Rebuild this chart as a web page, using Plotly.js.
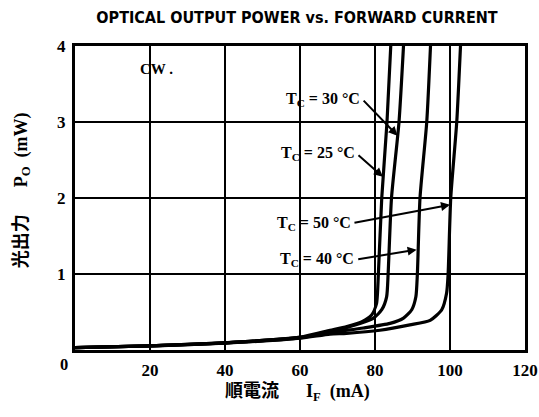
<!DOCTYPE html>
<html>
<head>
<meta charset="utf-8">
<script src="https://cdn.plot.ly/plotly-3.0.1.min.js"></script>
<style>
html,body{margin:0;padding:0;background:#fff;}
#chart{width:539px;height:417px;}
</style>
</head>
<body>
<div id="chart"></div>
<script>
// Forward current (mA) and optical output power (mW) for each case temperature
const current25 = [0, 20, 40, 60, 68, 72.5, 76.4, 79.1, 80.4, 80.9, 81.8, 83.2, 84.2];
const power25   = [0.03, 0.055, 0.095, 0.17, 0.26, 0.31, 0.37, 0.46, 0.61, 1.0, 2.0, 3.0, 4.0];

const current30 = [0, 20, 40, 60, 68, 76, 79.6, 81.8, 83.1, 83.5, 84.4, 86.4, 87.6];
const power30   = [0.03, 0.055, 0.095, 0.165, 0.24, 0.35, 0.42, 0.53, 0.70, 1.0, 2.0, 3.0, 4.0];

const current40 = [0, 20, 40, 60, 68, 76.9, 84, 87.6, 89.8, 90.9, 91.3, 92.0, 93.8, 94.8];
const power40   = [0.03, 0.055, 0.095, 0.16, 0.23, 0.29, 0.35, 0.42, 0.53, 0.70, 1.0, 2.0, 3.0, 4.0];

const current50 = [0, 20, 40, 60, 68, 72.4, 81.3, 89.3, 94.7, 97.8, 99.1, 99.5, 100.2, 101.8, 102.8];
const power50   = [0.03, 0.055, 0.09, 0.155, 0.21, 0.22, 0.26, 0.33, 0.39, 0.53, 0.75, 1.0, 2.0, 3.0, 4.0];

const xTicks = [20, 40, 60, 80, 100, 120];
const yTicks = [1, 2, 3, 4];

// Curve labels: text, label right end (mA, mW), arrow tip (mA, mW)
const labelText = ['T<sub>C</sub> = 30 °C', 'T<sub>C</sub> = 25 °C', 'T<sub>C</sub> = 50 °C', 'T<sub>C</sub> = 40 °C'];
const labelX = [76.6, 75.2, 74.0, 75.0];
const labelY = [3.30, 2.58, 1.67, 1.19];
const tipX = [86.0, 82.1, 100.0, 91.1];
const tipY = [2.82, 2.28, 1.91, 1.32];

const seriesList = [
  {name: '25', x: current25, y: power25},
  {name: '30', x: current30, y: power30},
  {name: '40', x: current40, y: power40},
  {name: '50', x: current50, y: power50}
];

const traces = seriesList.map(s => ({
  type: 'scatter', mode: 'lines', x: s.x, y: s.y, name: s.name,
  line: {color: '#000', width: 3.2, shape: 'spline', smoothing: 0.6},
  hoverinfo: 'skip'
}));

const serif = '"Liberation Serif", "Noto Sans CJK JP", serif';
const sans = '"DejaVu Sans Condensed", "DejaVu Sans", sans-serif';

const annotations = [];
for (let i = 0; i < labelText.length; i++) {
  annotations.push({
    x: tipX[i], y: tipY[i], xref: 'x', yref: 'y',
    ax: labelX[i], ay: labelY[i], axref: 'x', ayref: 'y',
    xanchor: 'right', yanchor: 'middle',
    text: '<b>' + labelText[i] + '</b>', showarrow: true,
    arrowhead: 2, arrowsize: 0.9, arrowwidth: 2, arrowcolor: '#000', standoff: 0, startstandoff: 2,
    font: {family: serif, size: 16, color: '#000'}
  });
}
annotations.push({
  x: 16.8, y: 3.70, xref: 'x', yref: 'y', xanchor: 'left', yanchor: 'middle',
  text: '<b>CW .</b>', showarrow: false, font: {family: serif, size: 15, color: '#000'}
});
annotations.push({
  x: 0, y: 0, xref: 'x', yref: 'y', xanchor: 'right', yanchor: 'top', xshift: -5, yshift: -3,
  text: '<b>0</b>', showarrow: false, font: {family: serif, size: 16.5, color: '#000', weight: 'bold'}
});
// axis titles
annotations.push({
  x: 0.494, y: -0.141, xref: 'paper', yref: 'paper', xanchor: 'center', yanchor: 'middle',
  text: '<b>順電流&nbsp;&nbsp;&nbsp;&nbsp;&nbsp;&nbsp;I<sub>F</sub>&nbsp;&nbsp;(mA)</b>', showarrow: false,
  font: {family: serif, size: 18, color: '#000'}
});
annotations.push({
  x: -0.118, y: 0.525, xref: 'paper', yref: 'paper', xanchor: 'center', yanchor: 'middle',
  textangle: -90,
  text: '<b>光出力&nbsp;&nbsp;&nbsp;&nbsp;&nbsp;&nbsp;P<sub>O</sub>&nbsp;&nbsp;(mW)</b>', showarrow: false,
  font: {family: serif, size: 18, color: '#000'}
});

const layout = {
  width: 539, height: 417,
  margin: {l: 75, r: 14, t: 46, b: 67},
  paper_bgcolor: '#fff', plot_bgcolor: '#fff',
  showlegend: false,
  title: {
    text: '<b>OPTICAL OUTPUT POWER vs. FORWARD CURRENT</b>',
    x: 297 / 539, xref: 'container', xanchor: 'center', y: 1 - 17 / 417, yref: 'container', yanchor: 'middle',
    font: {family: sans, size: 16, color: '#000'}
  },
  xaxis: {
    range: [0, 120.001], tickvals: xTicks, ticktext: xTicks.map(v => String(v)),
    showgrid: true, gridcolor: '#000', gridwidth: 2,
    showline: true, linecolor: '#000', linewidth: 3, mirror: true,
    zeroline: false, ticks: '', ticklabelstandoff: 3, ticklabeloverflow: 'allow',
    tickfont: {family: serif, size: 17, color: '#000', weight: 'bold'},
    fixedrange: true
  },
  yaxis: {
    range: [0, 4.0001], tickvals: yTicks, ticktext: yTicks.map(v => String(v)),
    showgrid: true, gridcolor: '#000', gridwidth: 2,
    showline: true, linecolor: '#000', linewidth: 3, mirror: true,
    zeroline: false, ticks: '', ticklabelstandoff: 3, ticklabeloverflow: 'allow',
    tickfont: {family: serif, size: 17, color: '#000', weight: 'bold'},
    fixedrange: true
  },
  annotations: annotations
};

Plotly.newPlot('chart', traces, layout, {displayModeBar: false, staticPlot: true});
</script>
</body>
</html>
